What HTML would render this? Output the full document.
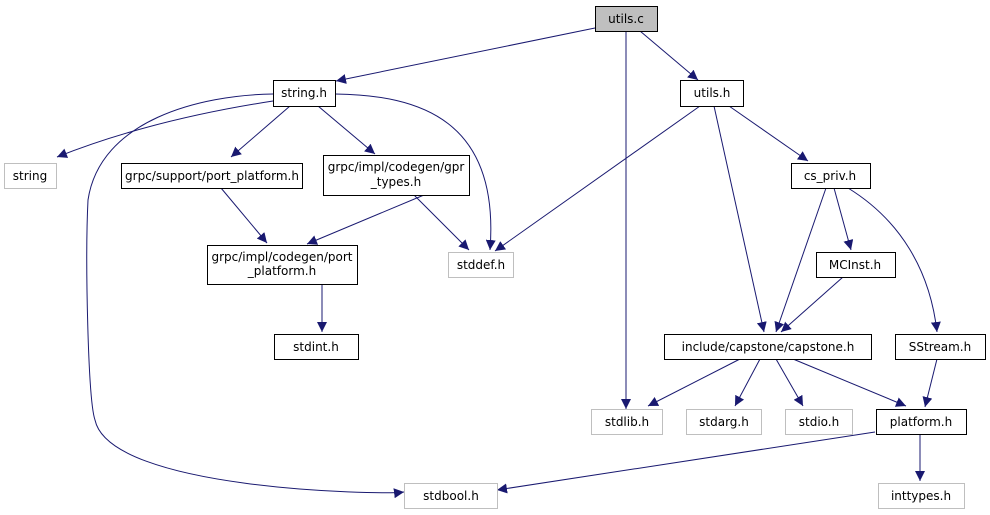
<!DOCTYPE html>
<html><head><meta charset="utf-8"><style>
html,body{margin:0;padding:0;background:#fff;width:990px;height:515px;overflow:hidden}
text{font-family:"DejaVu Sans","Liberation Sans",sans-serif;font-size:12px;fill:#000}
</style></head><body>
<svg width="990" height="515" viewBox="0 0 990 515" xmlns="http://www.w3.org/2000/svg">
<defs>
<marker id="a" viewBox="0 0 10 10" refX="10" refY="5" markerWidth="10" markerHeight="10" markerUnits="userSpaceOnUse" orient="auto">
<path d="M0,0 L10,5 L0,10 z" fill="#191970"/></marker>
</defs>
<g fill="none" stroke="#191970" stroke-width="1" marker-end="url(#a)">
<path d="M595,28 L336,81"/>
<path d="M626,31 L626,409"/>
<path d="M640,31 L698,80"/>
<path d="M273,101 Q150,120 57,157"/>
<path d="M290,106 L231,157"/>
<path d="M318,106 L375,154"/>
<path d="M335,94 C420,95 500,120 490,250"/>
<path d="M273,94 C200,95 100,120 88,200 C85,260 88,400 95,420 C110,490 380,495 404,492"/>
<path d="M221,188 L267,243"/>
<path d="M424,195 L307,244"/>
<path d="M414,195 L469,250"/>
<path d="M322,284 L322,332"/>
<path d="M700,106 L495,251"/>
<path d="M714,106 L764,332"/>
<path d="M729,106 L808,161"/>
<path d="M826,188 L776,332"/>
<path d="M834,188 L851,250"/>
<path d="M848,188 C900,220 930,270 937,332"/>
<path d="M843,277 L781,332"/>
<path d="M740,359 L648,406"/>
<path d="M760,359 L735,406"/>
<path d="M776,359 L803,406"/>
<path d="M793,359 L906,406"/>
<path d="M937,359 L925,407"/>
<path d="M875,432 L497,490"/>
<path d="M920,434 L920,481"/>
</g>
<g stroke-width="1">
<rect x="595.5" y="6.5" width="62" height="25" fill="#bfbfbf" stroke="#000"/>
<rect x="273.5" y="80.5" width="62" height="26" fill="#fff" stroke="#000"/>
<rect x="680.5" y="80.5" width="63" height="26" fill="#fff" stroke="#000"/>
<rect x="4.5" y="163.5" width="52" height="25" fill="#fff" stroke="#bfbfbf"/>
<rect x="121.5" y="163.5" width="181" height="25" fill="#fff" stroke="#000"/>
<rect x="323.5" y="155.5" width="146" height="40" fill="#fff" stroke="#000"/>
<rect x="791.5" y="163.5" width="79" height="25" fill="#fff" stroke="#000"/>
<rect x="207.5" y="245.5" width="150" height="39" fill="#fff" stroke="#000"/>
<rect x="448.5" y="252.5" width="65" height="25" fill="#fff" stroke="#bfbfbf"/>
<rect x="816.5" y="252.5" width="79" height="25" fill="#fff" stroke="#000"/>
<rect x="274.5" y="334.5" width="84" height="25" fill="#fff" stroke="#000"/>
<rect x="664.5" y="334.5" width="207" height="25" fill="#fff" stroke="#000"/>
<rect x="895.5" y="334.5" width="90" height="25" fill="#fff" stroke="#000"/>
<rect x="591.5" y="409.5" width="71" height="25" fill="#fff" stroke="#bfbfbf"/>
<rect x="686.5" y="409.5" width="75" height="25" fill="#fff" stroke="#bfbfbf"/>
<rect x="785.5" y="409.5" width="67" height="25" fill="#fff" stroke="#bfbfbf"/>
<rect x="876.5" y="409.5" width="90" height="25" fill="#fff" stroke="#000"/>
<rect x="404.5" y="483.5" width="93" height="25" fill="#fff" stroke="#bfbfbf"/>
<rect x="878.5" y="483.5" width="86" height="25" fill="#fff" stroke="#bfbfbf"/>
</g>
<g text-anchor="middle">
<text x="626" y="23">utils.c</text>
<text x="304" y="97">string.h</text>
<text x="712" y="97">utils.h</text>
<text x="30" y="180">string</text>
<text x="212" y="180">grpc/support/port_platform.h</text>
<text x="396" y="171">grpc/impl/codegen/gpr</text>
<text x="396" y="186">_types.h</text>
<text x="830" y="180">cs_priv.h</text>
<text x="282" y="261">grpc/impl/codegen/port</text>
<text x="282" y="275">_platform.h</text>
<text x="481" y="269">stddef.h</text>
<text x="855" y="269">MCInst.h</text>
<text x="316" y="351">stdint.h</text>
<text x="768" y="351">include/capstone/capstone.h</text>
<text x="940" y="351">SStream.h</text>
<text x="627" y="426">stdlib.h</text>
<text x="724" y="426">stdarg.h</text>
<text x="819" y="426">stdio.h</text>
<text x="921" y="426">platform.h</text>
<text x="451" y="500">stdbool.h</text>
<text x="921" y="500">inttypes.h</text>
</g>
</svg>
</body></html>
